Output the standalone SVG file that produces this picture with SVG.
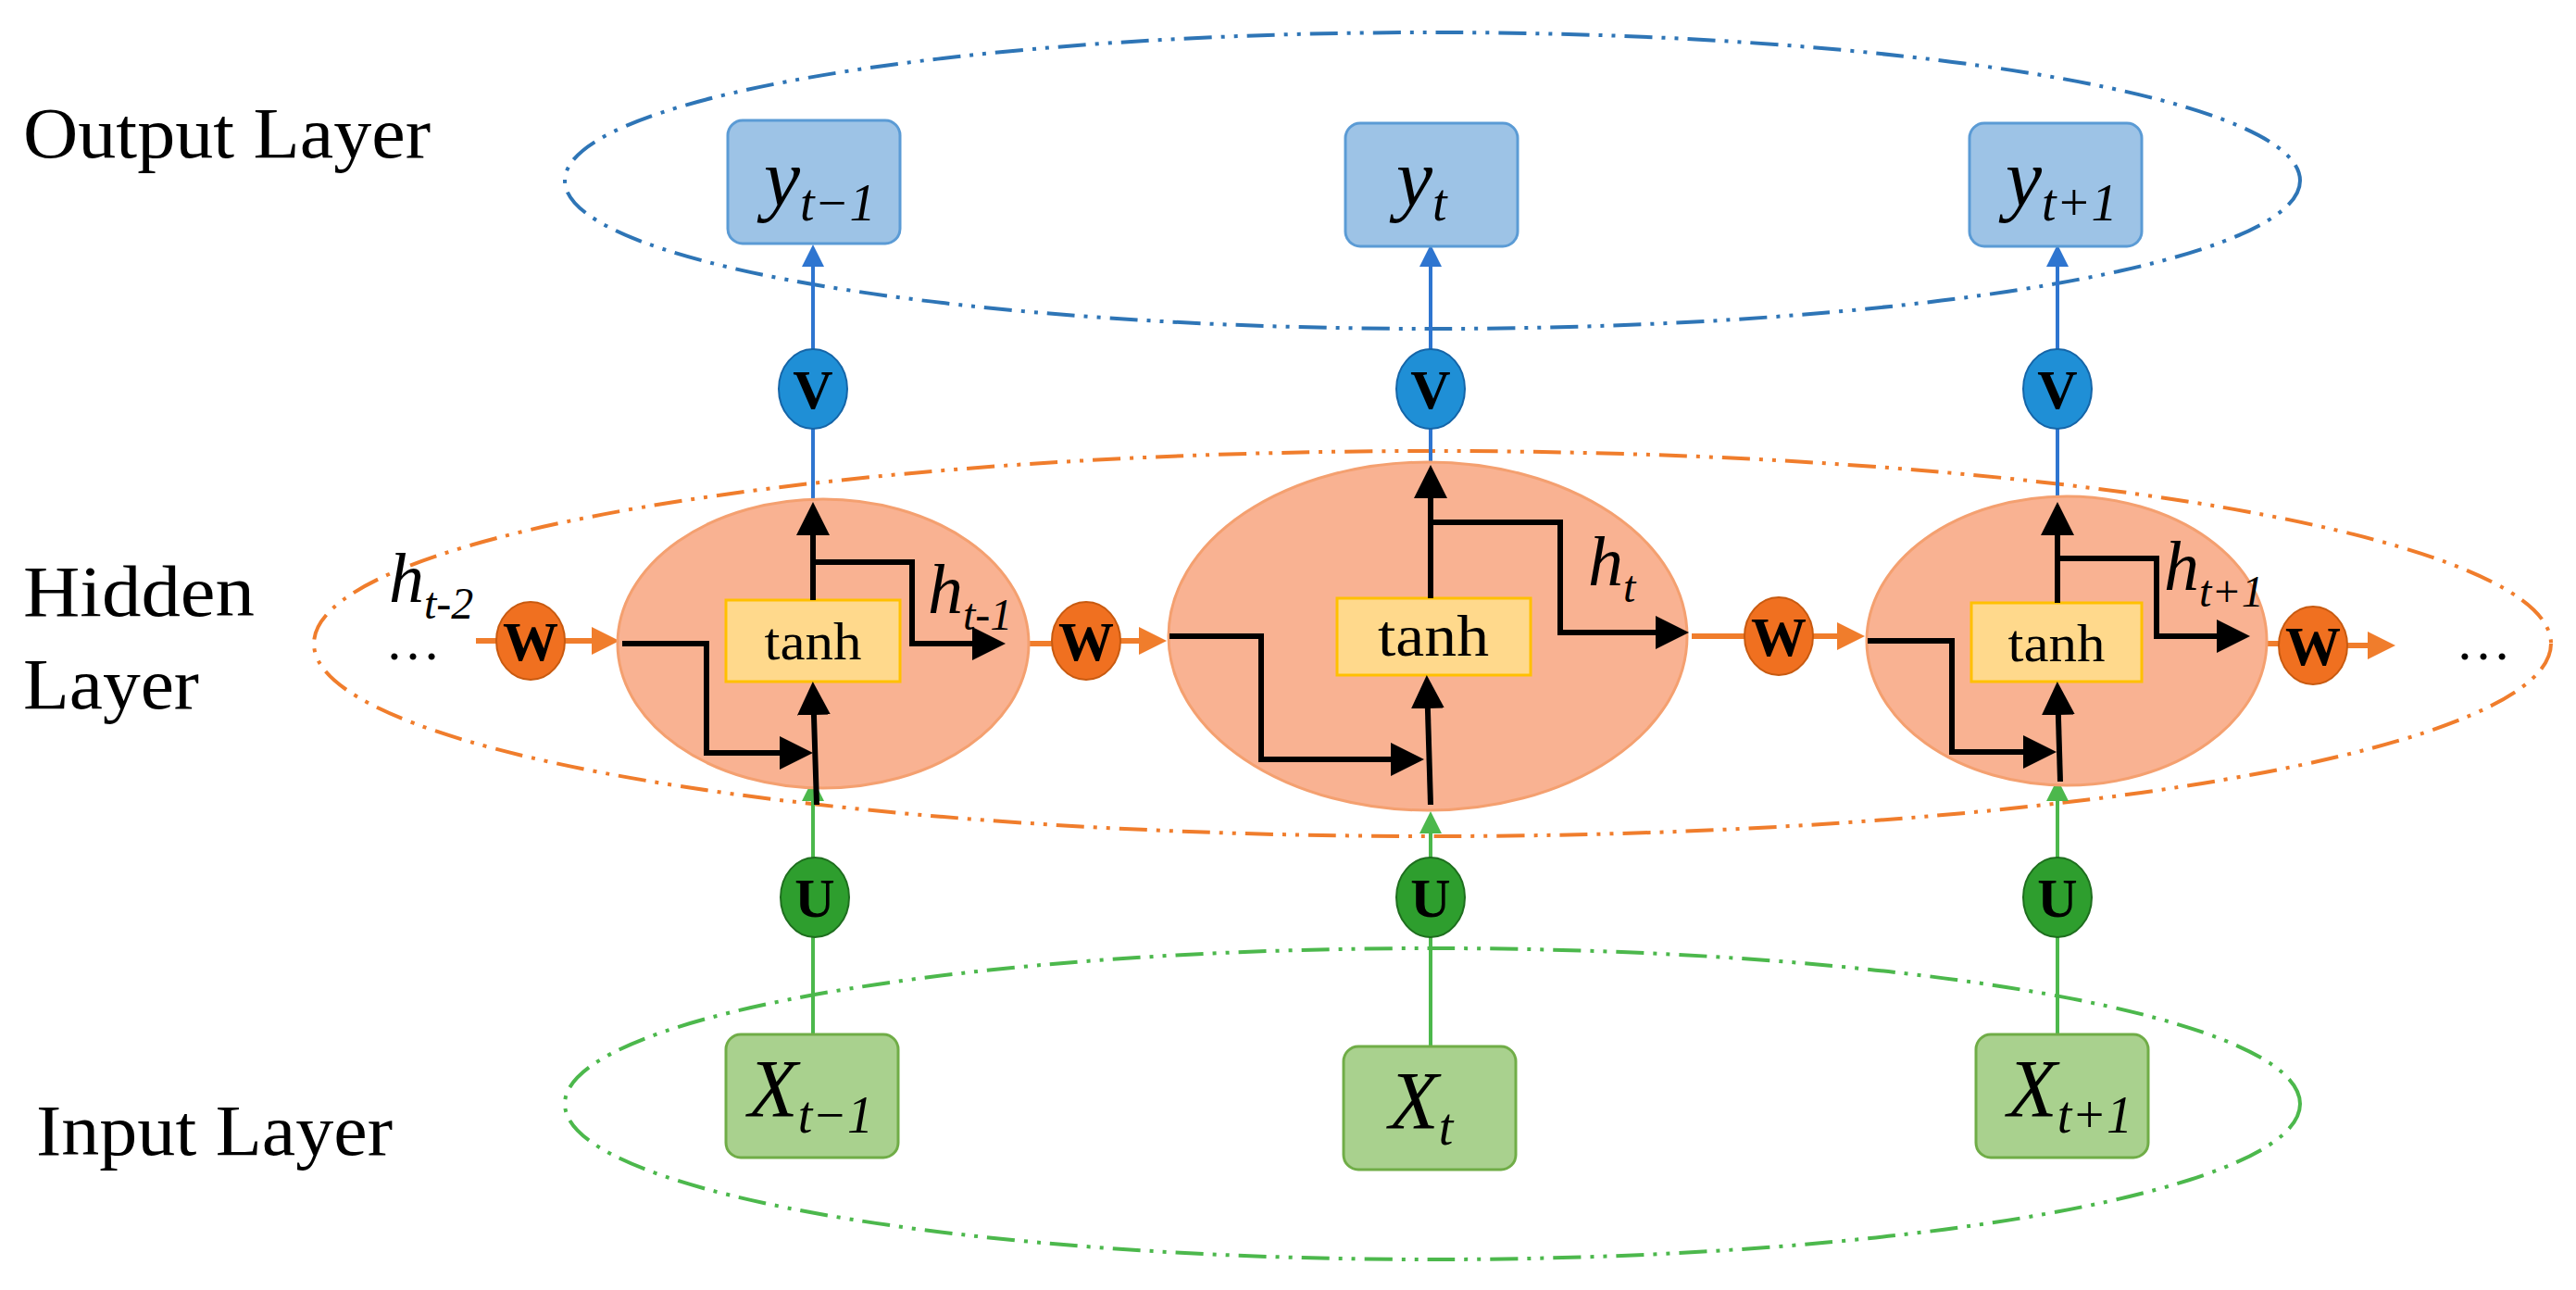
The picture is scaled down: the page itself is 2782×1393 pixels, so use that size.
<svg xmlns="http://www.w3.org/2000/svg" width="2782" height="1393" viewBox="0 0 2782 1393">
<style>
text{font-family:"Liberation Serif","Times New Roman",serif;fill:#000}
.lbl{font-size:78px}
.ob{fill:#9dc3e6;stroke:#5b9bd5;stroke-width:3}
.ib{fill:#a9d18e;stroke:#70ad47;stroke-width:3}
.cell{fill:#f9b292;stroke:#f4a070;stroke-width:3}
.th{fill:#ffd98c;stroke:#ffc000;stroke-width:3}
.blk{fill:none;stroke:#000;stroke-width:6;marker-end:url(#ab)}
.bl{stroke:#2e75d0;stroke-width:4;fill:none}
.gr{stroke:#4cb84c;stroke-width:4;fill:none}
.or{stroke:#f07d2c;stroke-width:6;fill:none}
.wt{font-weight:bold;font-size:60px;text-anchor:middle}
</style>
<defs>
<marker id="ab" markerWidth="6" markerHeight="6" refX="5" refY="3" orient="auto"><path d="M0,0L6,3L0,6z" fill="#000"/></marker>
<marker id="abl" markerWidth="6" markerHeight="6" refX="5" refY="3" orient="auto"><path d="M0,0L6,3L0,6z" fill="#2e75d0"/></marker>
<marker id="agr" markerWidth="6" markerHeight="6" refX="5" refY="3" orient="auto"><path d="M0,0L6,3L0,6z" fill="#4cb84c"/></marker>
<marker id="aor" markerWidth="5" markerHeight="5" refX="4" refY="2.5" orient="auto"><path d="M0,0L5,2.5L0,5z" fill="#f07d2c"/></marker>
</defs>
<g id="layers" fill="none" stroke-width="4" stroke-dasharray="30,10,4,10,4,10">
<ellipse cx="1547" cy="195" rx="937" ry="160" stroke="#2e75b6"/>
<ellipse cx="1547" cy="695" rx="1208" ry="208" stroke="#f07d2c"/>
<ellipse cx="1547" cy="1192" rx="937" ry="168" stroke="#4cb84c"/>
</g>
<g id="labels">
<text class="lbl" x="25" y="170" textLength="440" lengthAdjust="spacingAndGlyphs">Output Layer</text>
<text class="lbl" x="25" y="665" textLength="250" lengthAdjust="spacingAndGlyphs">Hidden</text>
<text class="lbl" x="25" y="765" textLength="190" lengthAdjust="spacingAndGlyphs">Layer</text>
<text class="lbl" x="39" y="1247" textLength="385" lengthAdjust="spacingAndGlyphs">Input Layer</text>
</g>
<g id="connectors">
<path class="bl" d="M878 541V463M878 377V268" marker-end="url(#abl)"/>
<path class="bl" d="M1545 502V463M1545 377V268" marker-end="url(#abl)"/>
<path class="bl" d="M2222 541V463M2222 377V268" marker-end="url(#abl)"/>
<path class="gr" d="M878 1117V1012M878 926V845" marker-end="url(#agr)"/>
<path class="gr" d="M1545 1130V1012M1545 926V880" marker-end="url(#agr)"/>
<path class="gr" d="M2222 1117V1012M2222 926V845" marker-end="url(#agr)"/>
<path class="or" d="M514 692H536M610 692H663" marker-end="url(#aor)"/>
<path class="or" d="M1103 695H1136M1210 692H1254" marker-end="url(#aor)"/>
<path class="or" d="M1827 687H1884M1958 687H2008" marker-end="url(#aor)"/>
<path class="or" d="M2448 695H2461M2535 697H2581" marker-end="url(#aor)"/>
</g>
<g id="cell1">
<ellipse class="cell" cx="889" cy="695" rx="222" ry="156"/>
<rect class="th" x="784" y="648" width="188" height="88"/>
<text x="878" y="712" font-size="58" text-anchor="middle" textLength="105" lengthAdjust="spacingAndGlyphs">tanh</text>
<path class="blk" d="M672 695H763V813H872"/>
<path class="blk" d="M882 869L878 742"/>
<path class="blk" d="M878 648V548"/>
<path class="blk" d="M878 607H985V695H1080"/>
</g>
<g id="cell2">
<ellipse class="cell" cx="1542" cy="687" rx="280" ry="188"/>
<rect class="th" x="1444" y="646" width="209" height="83"/>
<text x="1548" y="708" font-size="64" text-anchor="middle" textLength="120" lengthAdjust="spacingAndGlyphs">tanh</text>
<path class="blk" d="M1263 687H1362V820H1532"/>
<path class="blk" d="M1545 869L1541 735"/>
<path class="blk" d="M1545 646V508"/>
<path class="blk" d="M1545 564H1685V683H1818"/>
</g>
<g id="cell3">
<ellipse class="cell" cx="2232" cy="692" rx="216" ry="156"/>
<rect class="th" x="2129" y="651" width="184" height="85"/>
<text x="2221" y="714" font-size="58" text-anchor="middle" textLength="105" lengthAdjust="spacingAndGlyphs">tanh</text>
<path class="blk" d="M2017 692H2108V812H2215"/>
<path class="blk" d="M2225 844L2222 742"/>
<path class="blk" d="M2222 651V548"/>
<path class="blk" d="M2222 603H2329V687H2424"/>
</g>
<g id="hlabels">
<text x="420" y="650" font-size="76" font-style="italic">h<tspan font-size="48" dy="18">t-2</tspan></text>
<text x="1002" y="662" font-size="76" font-style="italic">h<tspan font-size="48" dy="18">t-1</tspan></text>
<text x="1715" y="632" font-size="76" font-style="italic">h<tspan font-size="48" dy="18">t</tspan></text>
<text x="2337" y="637" font-size="76" font-style="italic">h<tspan font-size="48" dy="18">t+1</tspan></text>
<text x="416" y="712" font-size="60">…</text>
<text x="2652" y="712" font-size="60">…</text>
</g>
<g id="W">
<g fill="#f07020" stroke="#c85a10" stroke-width="2">
<ellipse cx="573" cy="692" rx="37" ry="42"/><ellipse cx="1173" cy="692" rx="37" ry="42"/>
<ellipse cx="1921" cy="687" rx="37" ry="42"/><ellipse cx="2498" cy="697" rx="37" ry="42"/>
</g>
<text class="wt" x="573" y="713">W</text><text class="wt" x="1173" y="713">W</text>
<text class="wt" x="1921" y="708">W</text><text class="wt" x="2498" y="718">W</text>
</g>
<g id="V">
<g fill="#1f8fd6" stroke="#1565a8" stroke-width="2">
<ellipse cx="878" cy="420" rx="37" ry="43"/><ellipse cx="1545" cy="420" rx="37" ry="43"/><ellipse cx="2222" cy="420" rx="37" ry="43"/>
</g>
<text class="wt" x="878" y="441">V</text><text class="wt" x="1545" y="441">V</text><text class="wt" x="2222" y="441">V</text>
</g>
<g id="U">
<g fill="#2e9e2e" stroke="#1e6e1e" stroke-width="2">
<ellipse cx="880" cy="969" rx="37" ry="43"/><ellipse cx="1545" cy="969" rx="37" ry="43"/><ellipse cx="2222" cy="969" rx="37" ry="43"/>
</g>
<text class="wt" x="880" y="990">U</text><text class="wt" x="1545" y="990">U</text><text class="wt" x="2222" y="990">U</text>
</g>
<g id="outputs">
<rect class="ob" x="786" y="130" width="186" height="133" rx="16"/>
<rect class="ob" x="1453" y="133" width="186" height="133" rx="16"/>
<rect class="ob" x="2127" y="133" width="186" height="133" rx="16"/>
<text x="825" y="222" font-size="88" font-style="italic">y<tspan font-size="56" dy="16">t−1</tspan></text>
<text x="1508" y="222" font-size="88" font-style="italic">y<tspan font-size="56" dy="16">t</tspan></text>
<text x="2166" y="222" font-size="88" font-style="italic">y<tspan font-size="56" dy="16">t+1</tspan></text>
</g>
<g id="inputs">
<rect class="ib" x="784" y="1117" width="186" height="133" rx="16"/>
<rect class="ib" x="1451" y="1130" width="186" height="133" rx="16"/>
<rect class="ib" x="2134" y="1117" width="186" height="133" rx="16"/>
<text x="808" y="1205" font-size="88" font-style="italic">X<tspan font-size="56" dy="18">t−1</tspan></text>
<text x="1500" y="1218" font-size="88" font-style="italic">X<tspan font-size="56" dy="18">t</tspan></text>
<text x="2168" y="1205" font-size="88" font-style="italic">X<tspan font-size="56" dy="18">t+1</tspan></text>
</g>
</svg>
